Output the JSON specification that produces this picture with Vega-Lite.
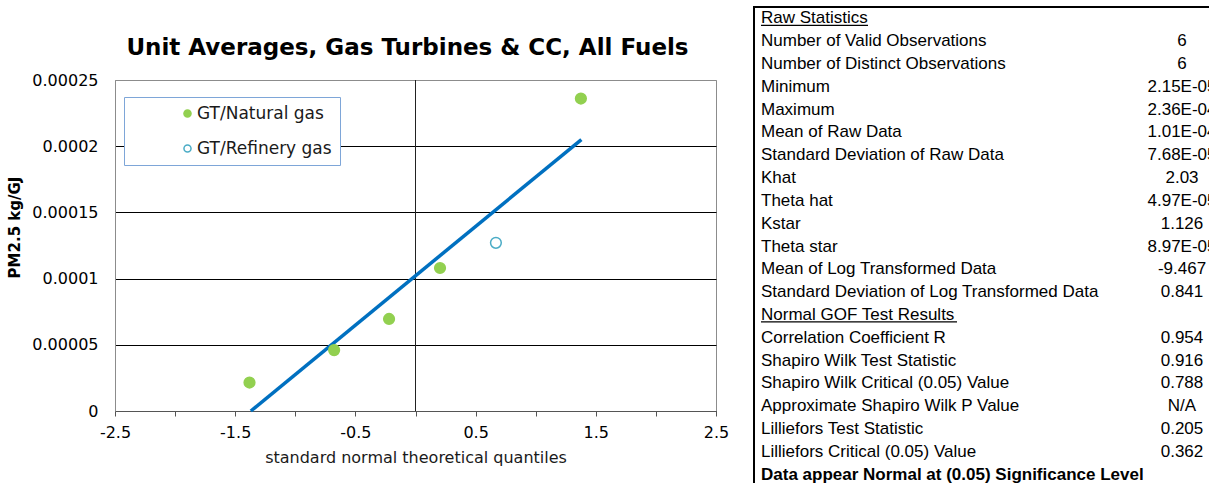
{
  "$schema": "https://vega.github.io/schema/vega-lite/v6.json",
  "background": "white",
  "padding": {"left": 7, "top": 6, "right": 0, "bottom": 0},
  "spacing": 23,
  "datasets": {
    "points": [
      {"quantile": -1.381, "pm25": 0.0000215, "group": "GT/Natural gas"},
      {"quantile": -0.677, "pm25": 0.000046, "group": "GT/Natural gas"},
      {"quantile": -0.22, "pm25": 0.0000695, "group": "GT/Natural gas"},
      {"quantile": 0.204, "pm25": 0.000108, "group": "GT/Natural gas"},
      {"quantile": 0.669, "pm25": 0.000127, "group": "GT/Refinery gas"},
      {"quantile": 1.376, "pm25": 0.000236, "group": "GT/Natural gas"}
    ],
    "fit": [
      {"quantile": -1.37, "pm25": 0},
      {"quantile": 1.38, "pm25": 0.000205}
    ],
    "stats": [
      {"row": 0, "statistic": "Raw Statistics", "value": "", "kind": "header"},
      {"row": 1, "statistic": "Number of Valid Observations", "value": "6", "kind": "stat"},
      {"row": 2, "statistic": "Number of Distinct Observations", "value": "6", "kind": "stat"},
      {"row": 3, "statistic": "Minimum", "value": "2.15E-05", "kind": "stat"},
      {"row": 4, "statistic": "Maximum", "value": "2.36E-04", "kind": "stat"},
      {"row": 5, "statistic": "Mean of Raw Data", "value": "1.01E-04", "kind": "stat"},
      {"row": 6, "statistic": "Standard Deviation of Raw Data", "value": "7.68E-05", "kind": "stat"},
      {"row": 7, "statistic": "Khat", "value": "2.03", "kind": "stat"},
      {"row": 8, "statistic": "Theta hat", "value": "4.97E-05", "kind": "stat"},
      {"row": 9, "statistic": "Kstar", "value": "1.126", "kind": "stat"},
      {"row": 10, "statistic": "Theta star", "value": "8.97E-05", "kind": "stat"},
      {"row": 11, "statistic": "Mean of Log Transformed Data", "value": "-9.467", "kind": "stat"},
      {"row": 12, "statistic": "Standard Deviation of Log Transformed Data", "value": "0.841", "kind": "stat"},
      {"row": 13, "statistic": "Normal GOF Test Results", "value": "", "kind": "header"},
      {"row": 14, "statistic": "Correlation Coefficient R", "value": "0.954", "kind": "stat"},
      {"row": 15, "statistic": "Shapiro Wilk Test Statistic", "value": "0.916", "kind": "stat"},
      {"row": 16, "statistic": "Shapiro Wilk Critical (0.05) Value", "value": "0.788", "kind": "stat"},
      {"row": 17, "statistic": "Approximate Shapiro Wilk P Value", "value": "N/A", "kind": "stat"},
      {"row": 18, "statistic": "Lilliefors Test Statistic", "value": "0.205", "kind": "stat"},
      {"row": 19, "statistic": "Lilliefors Critical (0.05) Value", "value": "0.362", "kind": "stat"},
      {"row": 20, "statistic": "Data appear Normal at (0.05) Significance Level", "value": "", "kind": "conclusion"}
    ]
  },
  "hconcat": [
    {
      "spacing": 11,
      "vconcat": [
        {
          "width": 601,
          "height": 1,
          "view": {"stroke": null},
          "data": {"values": []},
          "mark": "text",
          "encoding": {},
          "title": {
            "text": "Unit Averages, Gas Turbines & CC, All Fuels",
            "orient": "bottom",
            "font": "DejaVu Sans",
            "fontSize": 23,
            "fontWeight": "bold",
            "color": "#000",
            "anchor": "middle",
            "dx": -8,
            "offset": 29
          }
        },
        {
          "width": 601,
          "height": 331,
          "view": {"stroke": "#8c8c8c", "strokeWidth": 1},
          "layer": [
            {
              "data": {"values": [{"crossing": 0}]},
              "mark": {"type": "rule", "color": "#222", "strokeWidth": 1},
              "encoding": {
                "x": {"field": "crossing", "type": "quantitative", "title": "standard normal theoretical quantiles"}
              }
            },
            {
              "data": {"name": "fit"},
              "mark": {"type": "line", "color": "#0070C0", "strokeWidth": 3.5},
              "encoding": {
                "x": {"field": "quantile", "type": "quantitative", "title": "standard normal theoretical quantiles"},
                "y": {"field": "pm25", "type": "quantitative", "title": "PM2.5 kg/GJ"}
              }
            },
            {
              "data": {"name": "points"},
              "mark": {"type": "point", "shape": "circle", "size": 115, "strokeWidth": 1.5, "opacity": 1},
              "encoding": {
                "x": {
                  "field": "quantile",
                  "type": "quantitative",
                  "title": "standard normal theoretical quantiles",
                  "scale": {"domain": [-2.5, 2.5], "nice": false, "zero": false},
                  "axis": {
                    "values": [-2.5, -2, -1.5, -1, -0.5, 0, 0.5, 1, 1.5, 2, 2.5],
                    "labelExpr": "abs(datum.value % 1) == 0.5 ? toString(datum.value) : ''",
                    "grid": false,
                    "domainColor": "#555",
                    "tickColor": "#555",
                    "tickSize": 5,
                    "labelPadding": 8,
                    "labelFont": "DejaVu Sans",
                    "labelFontSize": 16,
                    "labelColor": "#000",
                    "labelFlush": false,
                    "labelOverlap": false,
                    "titleFont": "DejaVu Sans",
                    "titleFontSize": 16,
                    "titleFontWeight": "normal",
                    "titleColor": "#1a1a1a",
                    "titlePadding": 9
                  }
                },
                "y": {
                  "field": "pm25",
                  "type": "quantitative",
                  "title": "PM2.5 kg/GJ",
                  "scale": {"domain": [0, 0.00025], "nice": false},
                  "axis": {
                    "values": [0, 0.00005, 0.0001, 0.00015, 0.0002, 0.00025],
                    "format": "~f",
                    "grid": true,
                    "gridColor": {"condition": {"test": "datum.value >= 0.00025", "value": "#8c8c8c"}, "value": "#000"},
                    "ticks": false,
                    "domainColor": "#8c8c8c",
                    "labelPadding": 17,
                    "labelFont": "DejaVu Sans",
                    "labelFontSize": 16,
                    "labelColor": "#000",
                    "labelFlush": false,
                    "labelOverlap": false,
                    "titleFont": "DejaVu Sans",
                    "titleFontSize": 15,
                    "titleFontWeight": "bold",
                    "titleColor": "#000",
                    "titlePadding": 9,
                    "titleY": 147
                  }
                },
                "fill": {
                  "field": "group",
                  "type": "nominal",
                  "scale": {"domain": ["GT/Natural gas", "GT/Refinery gas"], "range": ["#92D050", "rgba(255,255,255,0)"]},
                  "legend": {
                    "orient": "none", "legendX": 9, "legendY": 90, "title": null,
                    "padding": 8, "strokeColor": "#7EA6D8", "fillColor": "#ffffff",
                    "symbolSize": 50, "symbolStrokeWidth": 1.5, "symbolType": "circle",
                    "labelFont": "DejaVu Sans", "labelFontSize": 17, "labelColor": "#1a1a1a",
                    "rowPadding": 17, "symbolOffset": 47, "labelOffset": 1
                  }
                },
                "stroke": {
                  "field": "group",
                  "type": "nominal",
                  "scale": {"domain": ["GT/Natural gas", "GT/Refinery gas"], "range": ["#92D050", "#4BACC6"]},
                  "legend": {
                    "orient": "none", "legendX": 9, "legendY": 90, "title": null,
                    "padding": 8, "strokeColor": "#7EA6D8", "fillColor": "#ffffff",
                    "symbolSize": 50, "symbolStrokeWidth": 1.5, "symbolType": "circle",
                    "labelFont": "DejaVu Sans", "labelFontSize": 17, "labelColor": "#1a1a1a",
                    "rowPadding": 17, "symbolOffset": 47, "labelOffset": 1
                  }
                }
              }
            }
          ]
        }
      ]
    },
    {
      "width": 470,
      "height": 479,
      "view": {"stroke": "#000", "strokeWidth": 2},
      "data": {"name": "stats"},
      "encoding": {
        "y": {"field": "row", "type": "ordinal", "scale": {"type": "band", "paddingInner": 0, "paddingOuter": 0}, "axis": null}
      },
      "layer": [
        {
          "transform": [{"filter": "datum.kind !== 'conclusion'"}],
          "mark": {"type": "text", "align": "left", "baseline": "middle", "font": "Liberation Sans", "fontSize": 17, "color": "#000"},
          "encoding": {
            "x": {"datum": "label", "type": "nominal", "scale": {"type": "point", "domain": ["label", "value"], "padding": 0.0582, "align": 0.143}, "axis": null},
            "text": {"field": "statistic"}
          }
        },
        {
          "transform": [{"filter": "datum.kind === 'conclusion'"}],
          "mark": {"type": "text", "align": "left", "baseline": "middle", "font": "Liberation Sans", "fontSize": 17, "fontWeight": "bold", "color": "#000"},
          "encoding": {
            "x": {"datum": "label", "type": "nominal"},
            "text": {"field": "statistic"}
          }
        },
        {
          "mark": {"type": "text", "align": "center", "baseline": "middle", "font": "Liberation Sans", "fontSize": 17, "color": "#000"},
          "encoding": {
            "x": {"datum": "value", "type": "nominal"},
            "text": {"field": "value"}
          }
        },
        {
          "transform": [{"filter": "datum.row === 0"}],
          "mark": {"type": "rule", "color": "#000", "strokeWidth": 1.2, "yOffset": 7, "x2Offset": 107},
          "encoding": {
            "x": {"datum": "label", "type": "nominal"},
            "x2": {"datum": "label"}
          }
        },
        {
          "transform": [{"filter": "datum.row === 13"}],
          "mark": {"type": "rule", "color": "#000", "strokeWidth": 1.2, "yOffset": 7, "x2Offset": 196},
          "encoding": {
            "x": {"datum": "label", "type": "nominal"},
            "x2": {"datum": "label"}
          }
        }
      ]
    }
  ]
}
